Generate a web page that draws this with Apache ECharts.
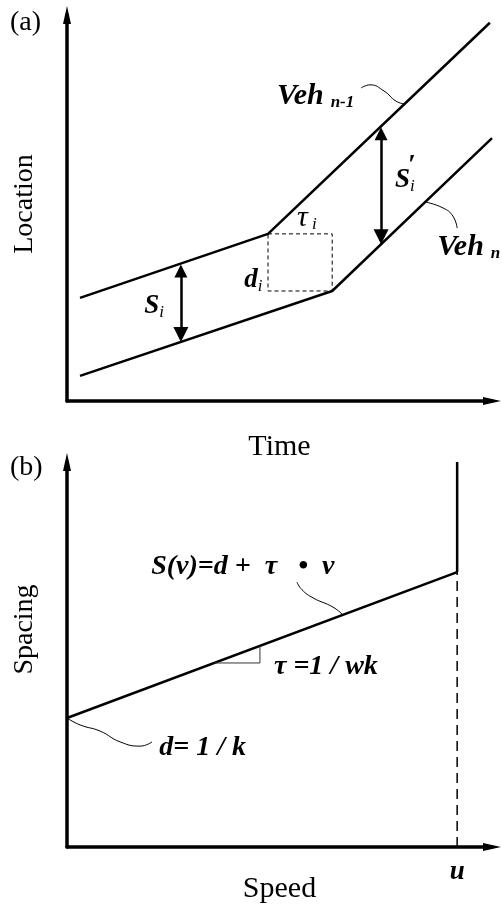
<!DOCTYPE html>
<html>
<head>
<meta charset="utf-8">
<script src="https://cdn.jsdelivr.net/npm/echarts@6/dist/echarts.min.js"></script>
<style>
  html, body { margin: 0; padding: 0; background: #fff; }
  #chart { width: 502px; height: 906px; }
</style>
</head>
<body>
<div id="chart"></div>
<script>
// ---------- (a) time–location trajectories ----------
const leaderPath   = [[3.06, 26.7], [47.3, 43.3], [99.5, 98.0]];   // Veh n-1
const followerPath = [[3.06, 6.5],  [62.4, 28.5], [100, 68.1]];    // Veh n
const reactionBox  = [[47.3, 43.3], [62.4, 43.3], [62.4, 28.5], [47.3, 28.5], [47.3, 43.3]];
const spacingBefore = [[26.8, 35.6], [26.8, 15.3]];
const spacingAfter  = [[73.9, 71.2], [73.9, 40.6]];
const leaderTag   = [[69.2, 81.1], [71.3, 81.9], [74.6, 80.3], [77.4, 77.7], [79.5, 76.9]];
const followerTag = [[84.2, 51.6], [88.5, 50.0], [90.8, 47.9], [91.8, 44.8]];

// ---------- (b) speed–spacing relation ----------
const freeSpeed   = 91.8;
const spacingLine = [[0, 33.5], [91.8, 71.4]];
const jamBranch   = [[91.8, 71.4], [91.8, 100]];
const speedLimit  = [[91.8, 0], [91.8, 71.4]];
const slopeMark   = [[34.6, 47.8], [45.4, 47.8], [45.4, 52.2]];
const formulaTag  = [[54.1, 68.8], [55.3, 66.8], [57.9, 64.7], [62.6, 62.3], [64.9, 60.3]];
const jamTag      = [[0, 33.5], [3.1, 31.7], [7.8, 30.1], [12.5, 27.3], [17.2, 26.2], [20.0, 27.3]];

// annotation anchors (left edge, vertical centre of the text)
const notesA = [
  { at: [49.4, 79.0], text: '{v|Veh}{s|n-1}' },
  { at: [87.1, 39.9], text: '{v|Veh}{s|n}' },
  { at: [18.2, 24.6], text: '{m|S}{i|i}' },
  { at: [77.2, 57.3], text: '{m|S}{i|i}' },
  { at: [80.2, 61.0], text: '{p|′}' },
  { at: [54.1, 47.4], text: '{g|τ}{i| i}' },
  { at: [41.7, 31.3], text: '{m|d}{i|i}' }
];
const notesB = [
  { at: [19.8, 72.7], text: '{f|S(v)=d +  τ   •  v}' },
  { at: [48.7, 46.8], text: '{f|τ =1 / wk}' },
  { at: [21.7, 25.7], text: '{f|d= 1 / k}' }
];

const serif = 'Liberation Serif';
const ink = '#000';

const richStyles = {
  v: { fontFamily: serif, fontStyle: 'italic', fontWeight: 'bold', fontSize: 30, color: ink },
  s: { fontFamily: serif, fontStyle: 'italic', fontWeight: 'bold', fontSize: 17, color: ink, padding: [13, 0, 0, 7] },
  m: { fontFamily: serif, fontStyle: 'italic', fontWeight: 'bold', fontSize: 27, color: ink },
  i: { fontFamily: serif, fontStyle: 'italic', fontSize: 17, color: ink, padding: [13, 0, 0, 0] },
  p: { fontFamily: serif, fontStyle: 'italic', fontWeight: 'bold', fontSize: 28, color: ink },
  g: { fontFamily: serif, fontStyle: 'italic', fontSize: 30, color: ink },
  f: { fontFamily: serif, fontStyle: 'italic', fontWeight: 'bold', fontSize: 28, color: ink }
};

function axisLine(symbolEnd) {
  return {
    show: true,
    lineStyle: { color: ink, width: 3.5 },
    symbol: ['none', symbolEnd],
    symbolSize: [8, 18]
  };
}

function valueAxis(gridIndex, name, nameGap, extra) {
  return Object.assign({
    type: 'value', gridIndex, min: 0, max: 100,
    name, nameLocation: 'middle', nameGap, nameMoveOverlap: false,
    nameTextStyle: { fontFamily: serif, fontSize: 30, color: ink },
    axisLine: axisLine('triangle'),
    axisTick: { show: false },
    axisLabel: { show: false },
    splitLine: { show: false }
  }, extra || {});
}

function path(data, idx, style, extra) {
  return Object.assign({
    type: 'line', xAxisIndex: idx, yAxisIndex: idx,
    data, symbol: 'none', silent: true, clip: false,
    lineStyle: Object.assign({ color: ink }, style)
  }, extra || {});
}

function notes(list, idx) {
  return {
    type: 'scatter', xAxisIndex: idx, yAxisIndex: idx,
    symbolSize: 0, silent: true, clip: false,
    itemStyle: { opacity: 1 },
    data: list.map(n => ({
      value: n.at,
      label: {
        show: true, position: 'right', distance: 0, color: ink, opacity: 1,
        formatter: n.text, rich: richStyles
      }
    }))
  };
}

const chart = echarts.init(document.getElementById('chart'));

const rotatedName = (size, lift) => ({
  fontFamily: serif, fontSize: size, color: ink, padding: [0, 0, 0, lift]
});

const option = {
  backgroundColor: '#fff',
  animation: false,
  title: [
    { text: '(a)', left: 5, top: 4, textStyle: { fontFamily: serif, fontWeight: 'normal', fontSize: 28, color: ink } },
    { text: '(b)', left: 5, top: 449, textStyle: { fontFamily: serif, fontWeight: 'normal', fontSize: 28, color: ink } }
  ],
  grid: [
    { left: 67, top: 15, width: 425, height: 386, outerBoundsMode: 'none', containLabel: false },
    { left: 67, top: 462, width: 425, height: 385, outerBoundsMode: 'none', containLabel: false }
  ],
  xAxis: [
    valueAxis(0, 'Time', 31),
    valueAxis(1, 'Speed', 27, {
      axisLabel: {
        show: true, customValues: [freeSpeed], margin: 12,
        formatter: () => 'u',
        fontFamily: serif, fontStyle: 'italic', fontWeight: 'bold', fontSize: 27, color: ink
      }
    })
  ],
  yAxis: [
    valueAxis(0, 'Location', 28, { nameRotate: 90, nameTextStyle: rotatedName(28, 8) }),
    valueAxis(1, 'Spacing', 28, { nameRotate: 90, nameTextStyle: rotatedName(28, 50) })
  ],
  series: [
    path(leaderPath, 0, { width: 2.5 }),
    path(followerPath, 0, { width: 2.5 }),
    path(reactionBox, 0, { width: 1, type: [4, 3] }),
    path(leaderTag, 0, { width: 1 }, { smooth: 0.5 }),
    path(followerTag, 0, { width: 1 }, { smooth: 0.5 }),
    notes(notesA, 0),

    path(spacingLine, 1, { width: 2.5 }),
    path(jamBranch, 1, { width: 2.5 }),
    path(speedLimit, 1, { width: 1.5, type: [10, 6] }),
    path(slopeMark, 1, { width: 1, color: '#333' }),
    path(formulaTag, 1, { width: 1 }, { smooth: 0.5 }),
    path(jamTag, 1, { width: 1 }, { smooth: 0.5 }),
    notes(notesB, 1)
  ]
};

chart.setOption(option);

// Double-headed spacing arrows: the triangle heads are centred on the segment ends,
// so pull each end in by half a head length to let the tips land on the trajectories.
const headLen = 15;
function arrowCoords(seg) {
  const finder = { xAxisIndex: 0, yAxisIndex: 0 };
  const a = chart.convertToPixel(finder, seg[0]);
  const b = chart.convertToPixel(finder, seg[1]);
  const len = Math.hypot(b[0] - a[0], b[1] - a[1]);
  const ux = (b[0] - a[0]) / len, uy = (b[1] - a[1]) / len;
  const h = headLen / 2;
  return [
    chart.convertFromPixel(finder, [a[0] + ux * h, a[1] + uy * h]),
    chart.convertFromPixel(finder, [b[0] - ux * h, b[1] - uy * h])
  ];
}

option.series.push({
  type: 'lines', coordinateSystem: 'cartesian2d', xAxisIndex: 0, yAxisIndex: 0,
  silent: true,
  symbol: ['triangle', 'triangle'], symbolSize: [13, headLen],
  lineStyle: { color: ink, width: 2.5, opacity: 1 },
  itemStyle: { color: ink },
  data: [spacingBefore, spacingAfter].map(s => ({ coords: arrowCoords(s) }))
});
chart.setOption(option);
</script>
</body>
</html>
